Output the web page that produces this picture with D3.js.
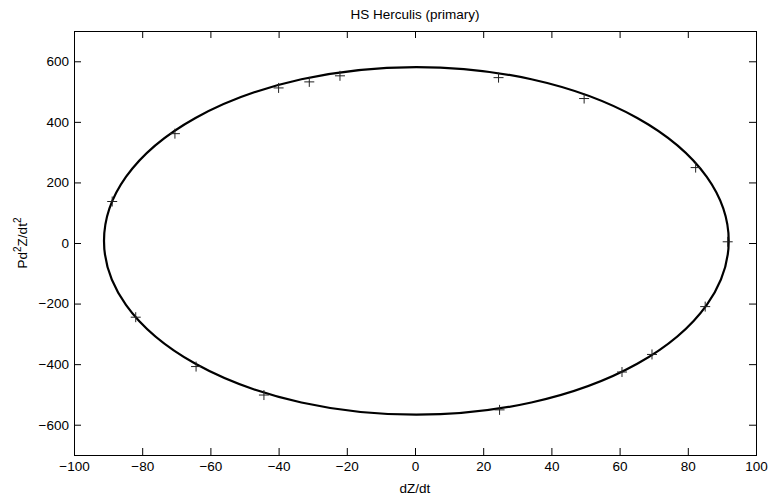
<!DOCTYPE html>
<html>
<head>
<meta charset="utf-8">
<script src="https://cdn.jsdelivr.net/npm/d3@7"></script>
<style>
  html, body { margin: 0; padding: 0; background: #fff; }
  svg { display: block; font-family: "Liberation Sans", Arial, Helvetica, sans-serif; }
</style>
</head>
<body>
<svg id="chart" width="772" height="499"></svg>
<script>
// Observed phase-space points (dZ/dt, P d²Z/dt²)
const obsDZ   = [-88.8, -70.4, -40, -31, -22, 24.5, 49.6, 82.3, 91.7, 85.1, 69.5, 60.7, 24.8, -44.3, -64.2, -81.9];
const obsD2Z  = [137, 361, 512, 532, 552, 546, 477, 249, 4, -210, -368, -426, -551, -502, -408, -245];

// Fitted orbit in phase space: centre and semi-axes
const fitCentre = [0.4, 7];
const fitSemiAxes = [91.6, 574];

const xTicks = [-100, -80, -60, -40, -20, 0, 20, 40, 60, 80, 100];
const yTicks = [-600, -400, -200, 0, 200, 400, 600];
const xDomain = [-100, 100];
const yDomain = [-700, 700];

const titleText = "HS Herculis (primary)";
const xLabel = "dZ/dt";

const svg = d3.select("#chart");
const plot = { left: 74, right: 756, top: 31, bottom: 455 };

const x = d3.scaleLinear().domain(xDomain).range([plot.left, plot.right]);
const y = d3.scaleLinear().domain(yDomain).range([plot.bottom, plot.top]);

const tickLen = 7;
const fs = 13.5;

// Fitted curve
svg.append("ellipse")
  .attr("cx", x(fitCentre[0]))
  .attr("cy", y(fitCentre[1]))
  .attr("rx", x(fitCentre[0] + fitSemiAxes[0]) - x(fitCentre[0]))
  .attr("ry", y(fitCentre[1]) - y(fitCentre[1] + fitSemiAxes[1]))
  .attr("fill", "none")
  .attr("stroke", "#000")
  .attr("stroke-width", 2.2);

// Observation markers (+)
const obs = obsDZ.map((d, i) => [d, obsD2Z[i]]);
const m = 5;
const marks = svg.append("g").attr("stroke", "#222").attr("stroke-width", 1);
marks.selectAll("path").data(obs).join("path")
  .attr("d", d => {
    const px = x(d[0]), py = y(d[1]);
    return `M${px - m},${py}H${px + m}M${px},${py - m}V${py + m}`;
  });

// Axes: bottom and left with labels, top and right as mirrored tick rows
const fmt = d => d3.format("")(d).replace("-", "\u2212");
const bottomAxis = d3.axisBottom(x).tickValues(xTicks).tickSizeInner(-tickLen).tickSizeOuter(0)
  .tickPadding(6).tickFormat(fmt);
const leftAxis = d3.axisLeft(y).tickValues(yTicks).tickSizeInner(-tickLen).tickSizeOuter(0)
  .tickPadding(5).tickFormat(fmt);
const topAxis = d3.axisTop(x).tickValues(xTicks).tickSizeInner(-tickLen).tickSizeOuter(0).tickFormat("");
const rightAxis = d3.axisRight(y).tickValues(yTicks).tickSizeInner(-tickLen).tickSizeOuter(0).tickFormat("");

function styleAxis(g) {
  g.select(".domain").remove();
  g.selectAll(".tick line").attr("stroke", "#000").attr("stroke-width", 1);
  g.selectAll(".tick text").attr("fill", "#000").style("font-size", fs + "px")
    .style("font-family", "'Liberation Sans', Arial, sans-serif");
}

svg.append("g").attr("transform", `translate(0,${plot.bottom})`).call(bottomAxis).call(styleAxis);
svg.append("g").attr("transform", `translate(${plot.left},0)`).call(leftAxis).call(styleAxis);
svg.append("g").attr("transform", `translate(0,${plot.top})`).call(topAxis).call(styleAxis);
svg.append("g").attr("transform", `translate(${plot.right},0)`).call(rightAxis).call(styleAxis);

// Box
svg.append("rect")
  .attr("x", plot.left + 0.5).attr("y", plot.top + 0.5)
  .attr("width", plot.right - plot.left).attr("height", plot.bottom - plot.top)
  .attr("fill", "none").attr("stroke", "#000").attr("stroke-width", 1);

// Title
svg.append("text")
  .attr("x", (plot.left + plot.right) / 2).attr("y", 19)
  .attr("text-anchor", "middle")
  .style("font-size", fs + "px")
  .text(titleText);

// X label
svg.append("text")
  .attr("x", (plot.left + plot.right) / 2).attr("y", 493)
  .attr("text-anchor", "middle")
  .style("font-size", fs + "px")
  .text(xLabel);

// Y label with superscripts
const yl = svg.append("text")
  .attr("transform", `translate(27,${(plot.top + plot.bottom) / 2}) rotate(-90)`)
  .attr("text-anchor", "middle")
  .style("font-size", fs + "px");
yl.append("tspan").text("Pd");
yl.append("tspan").attr("dy", -6).style("font-size", "10px").text("2");
yl.append("tspan").attr("dy", 6).text("Z/dt");
yl.append("tspan").attr("dy", -6).style("font-size", "10px").text("2");
</script>
</body>
</html>
